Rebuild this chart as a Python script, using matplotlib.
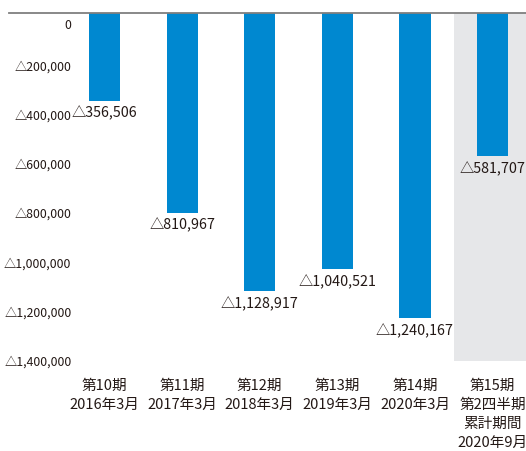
import matplotlib
matplotlib.use("Agg")
import matplotlib.pyplot as plt
from matplotlib.transforms import ScaledTranslation

plt.rcParams['font.family'] = ['Noto Sans CJK JP', 'DejaVu Sans']

categories = ["第10期\n2016年3月", "第11期\n2017年3月", "第12期\n2018年3月",
              "第13期\n2019年3月", "第14期\n2020年3月",
              "第15期\n第2四半期\n累計期間\n2020年9月"]
values = [-356506, -810967, -1128917, -1040521, -1240167, -581707]
ytick_values = [0, -200000, -400000, -600000, -800000, -1000000, -1200000, -1400000]
ytick_labels = ["0", "△200,000", "△400,000", "△600,000", "△800,000",
                "△1,000,000", "△1,200,000", "△1,400,000"]

BLUE = "#0088D0"
GRAY_BG = "#E6E7E9"
TXT = "#231815"

fig = plt.figure(figsize=(5.26, 4.52), dpi=100)
ax = fig.add_axes([9/526, 1-362/452, 1-9/526, (362-14)/452])

x = list(range(len(values)))
ax.axvspan(4.5, 6.5, color=GRAY_BG, zorder=0, lw=0)
ax.bar(x, values, width=0.4, color=BLUE, zorder=2)

for xi, v in zip(x, values):
    ax.annotate("△{:,}".format(abs(v)), (xi, v), xytext=(0, -3),
                textcoords="offset points", ha="center", va="top",
                fontsize=10.3, color=TXT)

ax.set_xlim(-1.23, 5.43)
ax.set_ylim(-1413000, 0)

ax.set_yticks(ytick_values)
ax.set_yticklabels(ytick_labels, fontsize=8.8, color=TXT)
ax.tick_params(axis='y', length=0, pad=-45)
for lab in ax.get_yticklabels():
    dy = -7 if lab.get_text() == "0" else -1.5
    lab.set_transform(lab.get_transform() + ScaledTranslation(0, dy/72, fig.dpi_scale_trans))

ax.set_xticks(x)
ax.set_xticklabels(categories, fontsize=10.5, color=TXT, linespacing=1.45)
ax.tick_params(axis='x', length=0, pad=12)

for s in ["left", "right", "bottom"]:
    ax.spines[s].set_visible(False)
ax.spines["top"].set_color("#7f7f7f")
ax.spines["top"].set_linewidth(1.3)
ax.spines["top"].set_zorder(3)

fig.savefig("out.png", dpi=100)
